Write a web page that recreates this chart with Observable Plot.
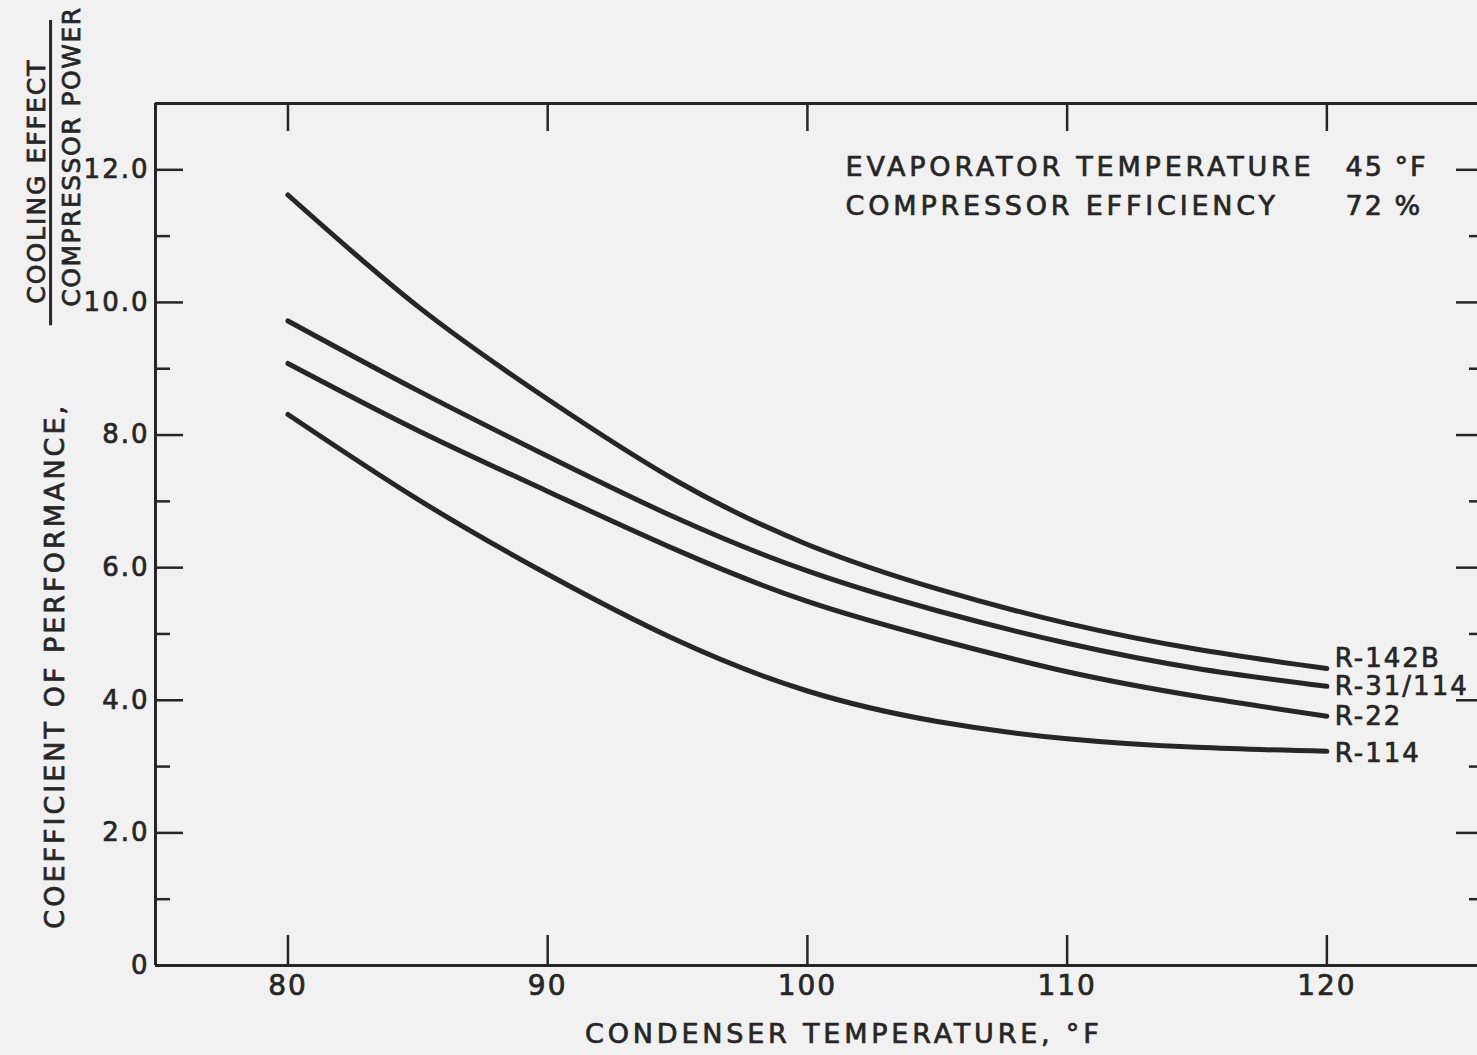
<!DOCTYPE html>
<html><head><meta charset="utf-8">
<script src="https://cdn.jsdelivr.net/npm/d3@7"></script>
<script src="https://cdn.jsdelivr.net/npm/@observablehq/plot@0.6"></script>
<style>
html,body{margin:0;padding:0;background:#f1f1f1;}
#chart{width:1477px;height:1055px;overflow:hidden;}
#chart svg text{letter-spacing:2px;}
</style></head><body><div id="chart"></div>
<script>
// Condenser temperature (°F)
const temps = [80, 85, 90, 95, 100, 105, 110, 115, 120];
// Coefficient of performance per refrigerant
const r142b  = [11.62, 9.94, 8.54, 7.30, 6.35, 5.68, 5.16, 4.77, 4.48];
const r31114 = [9.72, 8.67, 7.68, 6.74, 5.95, 5.35, 4.86, 4.48, 4.21];
const r22    = [9.08, 8.07, 7.15, 6.26, 5.49, 4.92, 4.43, 4.06, 3.76];
const r114   = [8.31, 7.03, 5.90, 4.90, 4.14, 3.68, 3.42, 3.29, 3.23];
const seriesNames = ["R-142B", "R-31/114", "R-22", "R-114"];
const seriesLabelY = [4.63, 4.21, 3.76, 3.20];
// Axes
const xTicks = [80, 90, 100, 110, 120];
const yMajor = [0, 2, 4, 6, 8, 10, 12];
const yMinor = [1, 3, 5, 7, 9, 11];
const yTickLabels = ["0", "2.0", "4.0", "6.0", "8.0", "10.0", "12.0"];
const xDomain = [74.9, 125.8];
const yDomain = [0, 13];
const xTitle = "CONDENSER TEMPERATURE, °F";
const yTitle = "COEFFICIENT OF PERFORMANCE,";
const yNumerator = "COOLING EFFECT";
const yDenominator = "COMPRESSOR POWER";
// Notes
const noteLabels = ["EVAPORATOR TEMPERATURE", "COMPRESSOR EFFICIENCY"];
const noteValues = ["45 °F", "72 %"];
const noteY = [12.04, 11.45];
const noteX = [101.47, 120.72];

const ink = "#262626";
const seriesValues = [r142b, r31114, r22, r114];
const rows = seriesNames.flatMap((name, i) => temps.map((t, j) => ({name, t, cop: seriesValues[i][j]})));
const blank = () => "";

const chart = Plot.plot({
  width: 1477, height: 1055,
  marginLeft: 155, marginRight: 0, marginTop: 103, marginBottom: 90,
  style: {background: "transparent", fontFamily: "DejaVu Sans, sans-serif", color: ink, overflow: "visible"},
  x: {domain: xDomain},
  y: {domain: yDomain},
  marks: [
    // frame (left, top, bottom)
    Plot.ruleX([xDomain[0]], {stroke: ink, strokeWidth: 3}),
    Plot.ruleY(yDomain, {stroke: ink, strokeWidth: 3}),
    // bottom ticks (inward) + labels
    Plot.axisX({anchor: "bottom", ticks: xTicks, tickSize: -30, tickFormat: blank, label: null, strokeWidth: 2.5}),
    Plot.axisX({anchor: "bottom", ticks: xTicks, tickSize: 0, tickPadding: 10, label: null, fontSize: 28}),
    // top ticks (inward)
    Plot.axisX({anchor: "top", ticks: xTicks, tickSize: -27, tickFormat: blank, label: null, strokeWidth: 2.5}),
    // left ticks
    Plot.axisY({anchor: "left", ticks: yMajor, tickSize: -28, tickFormat: blank, label: null, strokeWidth: 2.5}),
    Plot.axisY({anchor: "left", ticks: yMinor, tickSize: -15, tickFormat: blank, label: null, strokeWidth: 2.5}),
    Plot.axisY({anchor: "left", ticks: yMajor, tickSize: 0, tickPadding: 6, label: null, fontSize: 26,
      tickFormat: (d) => yTickLabels[yMajor.indexOf(d)]}),
    // right ticks
    Plot.axisY({anchor: "right", ticks: yMajor.slice(1), tickSize: -22, tickFormat: blank, label: null, strokeWidth: 2.5}),
    Plot.axisY({anchor: "right", ticks: yMinor, tickSize: -9, tickFormat: blank, label: null, strokeWidth: 2.5}),
    // curves
    Plot.line(rows, {x: "t", y: "cop", z: "name", curve: "natural", stroke: ink, strokeWidth: 5, strokeLinecap: "round"}),
    // curve labels
    Plot.text(seriesNames, {x: () => temps[temps.length - 1], y: (d, i) => seriesLabelY[i], text: (d) => d,
      textAnchor: "start", dx: 8, fontSize: 26, fill: ink}),
    // notes
    Plot.text(noteLabels, {x: () => noteX[0], y: (d, i) => noteY[i], text: (d) => d, textAnchor: "start", fontSize: 27, fill: ink}),
    Plot.text(noteValues, {x: () => noteX[1], y: (d, i) => noteY[i], text: (d) => d, textAnchor: "start", fontSize: 27, fill: ink}),
    // axis titles
    Plot.text([xTitle], {frameAnchor: "bottom", x: () => 101.4, dy: 77, fontSize: 27, textAnchor: "middle", fill: ink}),
    Plot.text([yTitle], {frameAnchor: "left", y: () => 4.52, dx: -100, rotate: -90, fontSize: 27, textAnchor: "middle", fill: ink}),
    Plot.text([yNumerator], {frameAnchor: "left", y: () => 11.83, dx: -119, rotate: -90, fontSize: 25, textAnchor: "middle", fill: ink}),
    Plot.text([yDenominator], {frameAnchor: "left", y: () => 12.2, dx: -84, rotate: -90, fontSize: 25, textAnchor: "middle", fill: ink}),
    Plot.ruleX([70.86], {y1: 9.65, y2: 14.25, stroke: ink, strokeWidth: 3})
  ]
});
document.getElementById("chart").appendChild(chart);

// lettering weight and spacing like the hand-lettered original
const spacing = new Map([
  [xTitle, "3.8px"], [yTitle, "3px"], [yNumerator, "2px"], [yDenominator, "1.5px"],
  [noteLabels[0], "3.8px"], [noteLabels[1], "3.8px"]
]);
d3.select(chart).selectAll("text").each(function () {
  const t = d3.select(this);
  const s = spacing.get(t.text());
  if (s) t.style("letter-spacing", s);
  t.attr("stroke", ink).attr("stroke-width", 0.7);
});
</script>
</body></html>
